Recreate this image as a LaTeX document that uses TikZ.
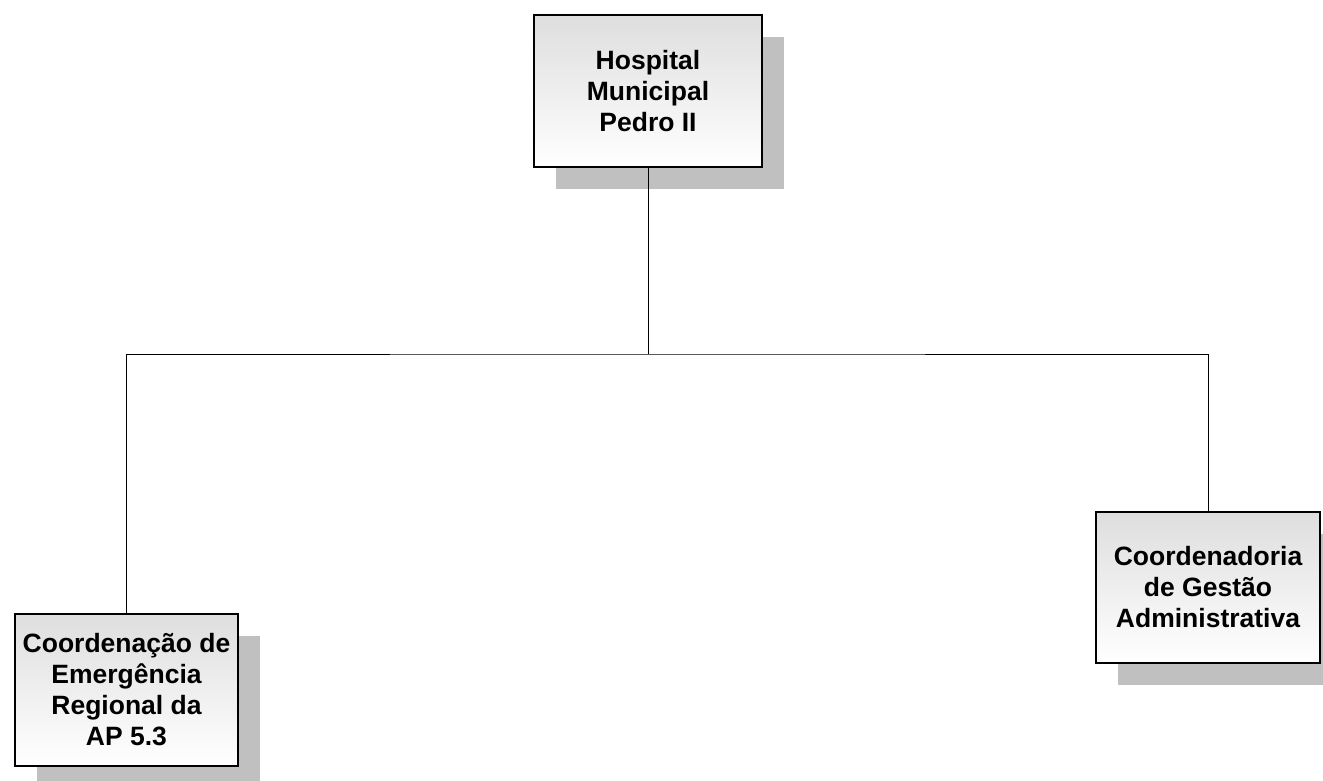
\documentclass[tikz,border=0pt]{standalone}
\usepackage{fontspec}
\setmainfont{Liberation Sans}
\usetikzlibrary{shadows}
\definecolor{shadowgray}{HTML}{C0C0C0}
\definecolor{topgray}{HTML}{DEDEDE}
\begin{document}
\begin{tikzpicture}[x=1pt,y=-1pt,
  orgbox/.style={draw=black, line width=1.5pt, top color=topgray, bottom color=white,
    align=center, inner sep=2pt,
    font=\fontsize{26.5}{31}\selectfont\bfseries,
    general shadow={shadow xshift=22pt, shadow yshift=-22pt, fill=shadowgray}},
  conn/.style={draw=black, line width=1pt}]
\useasboundingbox (0,0) rectangle (1323,781);
\node[orgbox, minimum width=228pt, minimum height=152pt] (top) at (648,91) {Hospital\\Municipal\\Pedro II};
\node[orgbox, minimum width=223pt, minimum height=152pt] (left) at (126.5,690) {Coordenação de\\Emergência\\Regional da\\AP 5.3};
\node[orgbox, minimum width=224pt, minimum height=151pt] (right) at (1208,587.5) {Coordenadoria\\de Gestão\\Administrativa};
\coordinate (j) at (648,354);
\draw[conn] (top.south) -- (j);
\draw[conn] (left.north) |- (j) -| (right.north);
\end{tikzpicture}
\end{document}
